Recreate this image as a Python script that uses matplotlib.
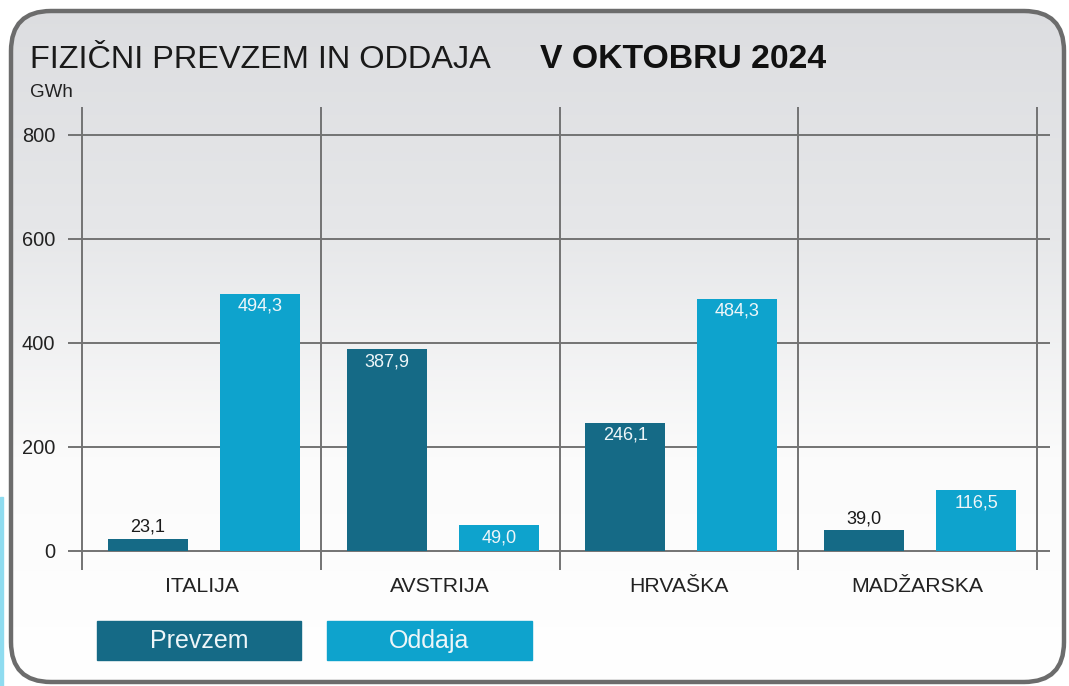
import matplotlib
matplotlib.use("Agg")
import matplotlib.pyplot as plt
import numpy as np
from matplotlib import font_manager
from matplotlib.patches import FancyBboxPatch, Rectangle

# data
drzave = ["ITALIJA", "AVSTRIJA", "HRVAŠKA", "MADŽARSKA"]
prevzem = [23.1, 387.9, 246.1, 39.0]
oddaja = [494.3, 49.0, 484.3, 116.5]
y_ticks = [0, 200, 400, 600, 800]

c_prevzem = "#156a86"
c_oddaja = "#0ea3cd"

try:
    font_manager.findfont("Liberation Sans Narrow", fallback_to_default=False)
    fam = "Liberation Sans Narrow"
    k = 1.0
except Exception:
    fam = "Liberation Sans"
    k = 0.9
plt.rcParams["font.family"] = [fam, "DejaVu Sans"]

W, H = 1069, 686
fig = plt.figure(figsize=(W / 100, H / 100), dpi=100)

# background panel in pixel coordinates
bg = fig.add_axes([0, 0, 1, 1])
bg.set_xlim(0, W)
bg.set_ylim(H, 0)
bg.axis("off")
panel = FancyBboxPatch((11, 11), 1053, 671, boxstyle="round,pad=0,rounding_size=40",
                       facecolor="none", edgecolor="#6c6c6c", linewidth=3.2, zorder=3)
bg.add_patch(panel)
grad = np.linspace(0, 1, 256).reshape(-1, 1)
img = bg.imshow(grad, extent=(0, W, H, 0), cmap=matplotlib.colors.LinearSegmentedColormap.from_list(
    "g", ["#dcdde0", "#e6e7e9", "#fbfbfb", "#ffffff"]), aspect="auto", zorder=1)
img.set_clip_path(panel)
bg.add_patch(Rectangle((0, 497), 3, 189, color="#8fdcf0", zorder=2))

bg.text(30, 68, "FIZIČNI PREVZEM IN ODDAJA", fontsize=26 * k, color="#1a1a1a", va="baseline")
bg.text(540, 68, "V OKTOBRU 2024", fontsize=27 * k, fontweight="bold", color="#111111", va="baseline")
bg.text(30, 97, "GWh", fontsize=15 * k, color="#222222", va="baseline")

# legend boxes
bg.add_patch(Rectangle((97, 621), 204, 39, color=c_prevzem, zorder=4))
bg.add_patch(Rectangle((327, 621), 205, 39, color=c_oddaja, zorder=4))
bg.text(199, 641, "Prevzem", fontsize=18, color="#eef6f9", ha="center", va="center", zorder=5)
bg.text(429, 641, "Oddaja", fontsize=18, color="#eef6f9", ha="center", va="center", zorder=5)

# main chart
ax = fig.add_axes([68 / W, 116 / H, 982 / W, 463 / H])
ax.patch.set_alpha(0)
for s in ax.spines.values():
    s.set_visible(False)
ax.set_xlim(-0.56, 3.555)
ax.set_ylim(-37, 853)

x = np.arange(len(drzave))
ax.hlines(y_ticks, -0.56, 3.555, color="#737373", linewidth=1.4, zorder=1)
ax.vlines(np.arange(len(drzave) + 1) - 0.5, -37, 853, color="#737373", linewidth=1.4, zorder=1)

bw = 0.335
b1 = ax.bar(x - 0.225, prevzem, bw, color=c_prevzem, zorder=2)
b2 = ax.bar(x + 0.245, oddaja, bw, color=c_oddaja, zorder=2)

for bars, vals in ((b1, prevzem), (b2, oddaja)):
    for b, v in zip(bars, vals):
        cx = b.get_x() + b.get_width() / 2
        lab = f"{v:.1f}".replace(".", ",")
        if v < 40:
            ax.text(cx, v + 6, lab, ha="center", va="bottom", fontsize=14.5 * k, color="#1a1a1a", zorder=3)
        else:
            t = ax.text(cx, v - 8, lab, ha="center", va="top", fontsize=14.5 * k, color="#eef6f9", zorder=3)
            t.set_clip_path(b)

ax.set_yticks(y_ticks)
ax.set_yticklabels([str(v) for v in y_ticks], fontsize=16 * k, color="#222222")
ax.set_xticks(x)
ax.set_xticklabels(drzave, fontsize=17 * k, color="#222222")
ax.tick_params(length=0)
ax.tick_params(axis="y", pad=9)
ax.tick_params(axis="x", pad=5)

fig.savefig("out.png", dpi=100)
